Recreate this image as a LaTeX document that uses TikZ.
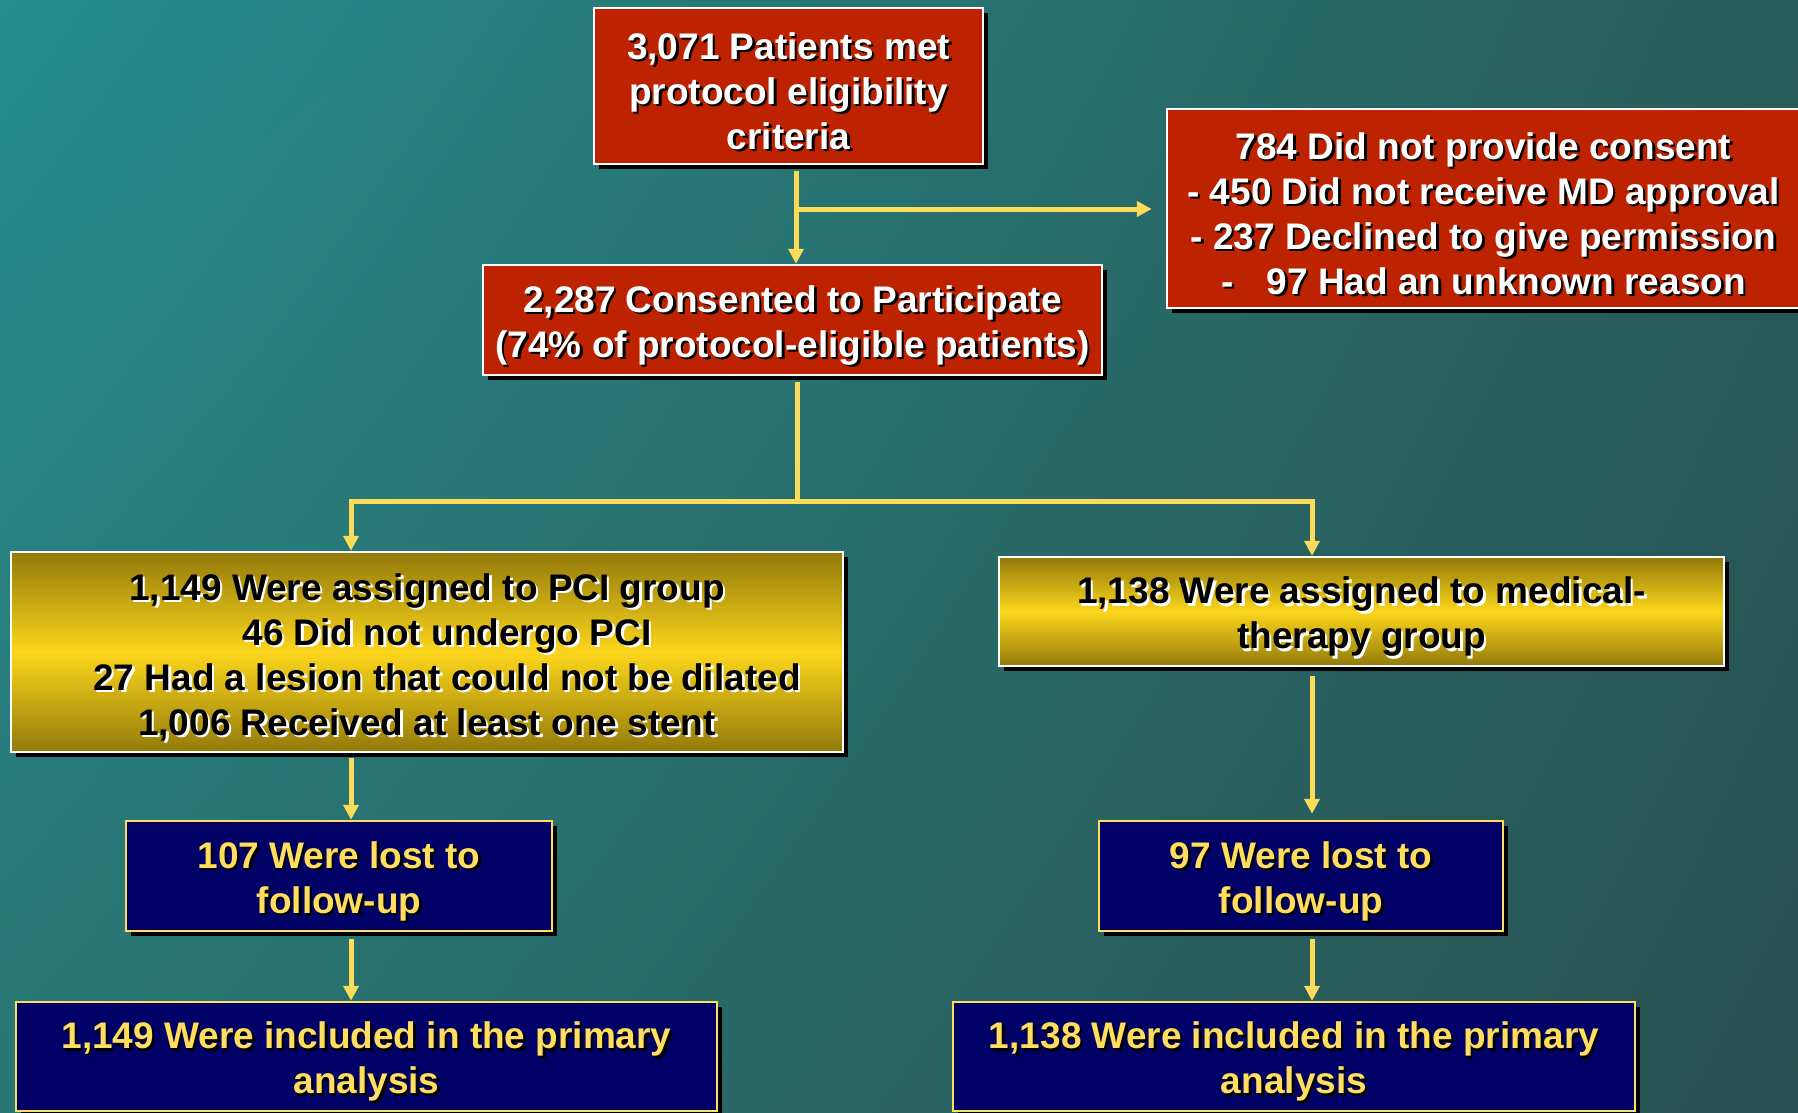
\documentclass[tikz,border=0pt]{standalone}
\usepackage{fontspec}
\setmainfont{Liberation Sans}
\usetikzlibrary{arrows.meta,shadows,shadings}
\definecolor{bgA}{RGB}{38,140,140}
\definecolor{bgB}{RGB}{40,92,90}
\definecolor{bgC}{RGB}{40,118,115}
\definecolor{bgD}{RGB}{40,80,80}
\definecolor{boxred}{RGB}{189,35,0}
\definecolor{navy}{RGB}{0,0,102}
\definecolor{txtyellow}{RGB}{255,222,95}
\definecolor{arrowyellow}{RGB}{250,220,90}
\definecolor{golddark}{RGB}{146,122,10}
\definecolor{goldlight}{RGB}{252,214,28}
\newcommand\shcol{black}
\newcommand\sh[1]{\rlap{\kern2.5pt\raisebox{-2.5pt}[37pt][0pt]{\color{\shcol}#1}}#1}
\begin{document}
\begin{tikzpicture}[x=1pt,y=-1pt,
    font=\fontsize{37}{45}\selectfont\bfseries,
    box/.style={align=center,inner sep=0pt,line width=2.5pt,
      general shadow={fill=black,shadow xshift=5pt,shadow yshift=-5pt}},
    redbox/.style={box,fill=boxred,draw=white,text=white},
    goldbox/.style={box,top color=golddark,bottom color=golddark,middle color=goldlight,
      draw=white,text=black,execute at begin node={\def\shcol{white}}},
    navybox/.style={box,fill=navy,draw=txtyellow,text=txtyellow},
    link/.style={draw=arrowyellow,line width=5pt},
    arr/.style={link,-{Triangle[width=15pt,length=15pt]}}]
    \useasboundingbox (0,0) rectangle (1798,1112);
    \shade[upper left=bgA,upper right=bgB,lower left=bgC,lower right=bgD] (0,0) rectangle (1798,1112);
    % boxes
    \node[redbox,minimum width=389,minimum height=156] (elig) at (788.5,86)
      {\sh{3,071 Patients met}\\\sh{protocol eligibility}\\\sh{criteria}};
    \node[redbox,minimum width=633,minimum height=199] (nocons) at (1483.5,208.5)
      {\sh{784 Did not provide consent}\\\sh{- 450 Did not receive MD approval}\\
       \sh{- 237 Declined to give permission}\\\sh{-\hspace{0.9em}97 Had an unknown reason}};
    \node[redbox,minimum width=619,minimum height=110] (consent) at (792.5,320)
      {\sh{2,287 Consented to Participate}\\\sh{(74\% of protocol-eligible patients)}};
    \node[goldbox,minimum width=832,minimum height=200] (pci) at (427,652)
      {\sh{1,149 Were assigned to PCI group}\\\hspace*{40pt}\sh{46 Did not undergo PCI}\\
       \hspace*{40pt}\sh{27 Had a lesion that could not be dilated}\\\sh{1,006 Received at least one stent}};
    \node[goldbox,minimum width=725,minimum height=109] (med) at (1361.5,611.5)
      {\sh{1,138 Were assigned to medical-}\\\sh{therapy group}};
    \node[navybox,minimum width=426,minimum height=110] (lostL) at (339,876)
      {\sh{107 Were lost to}\\\sh{follow-up}};
    \node[navybox,minimum width=404,minimum height=110] (lostR) at (1301,876)
      {\sh{97 Were lost to}\\\sh{follow-up}};
    \node[navybox,minimum width=701,minimum height=109] (inclL) at (366.5,1056.5)
      {\sh{1,149 Were included in the primary}\\\sh{analysis}};
    \node[navybox,minimum width=682,minimum height=109] (inclR) at (1294,1056.5)
      {\sh{1,138 Were included in the primary}\\\sh{analysis}};
    % arrows
    \coordinate (split) at (796,209);
    \coordinate (fork) at (797,501);
    \coordinate (colL) at (351,0);
    \coordinate (colR) at (1312,0);
    \draw[arr,shorten <=6pt] (elig.south -| split) -- (consent.north -| split);
    \draw[arr,shorten >=14pt] (split) -- (split -| nocons.west);
    \draw[link,shorten <=6pt] (consent.south -| fork) -- (fork);
    \draw[arr] (fork) -| (pci.north -| colL);
    \draw[arr] (fork) -| (med.north -| colR);
    \draw[arr,shorten <=5pt] (pci.south -| colL) -- (lostL.north -| colL);
    \draw[arr,shorten <=9pt,shorten >=6pt] (med.south -| colR) -- (lostR.north -| colR);
    \draw[arr,shorten <=7pt] (lostL.south -| colL) -- (inclL.north -| colL);
    \draw[arr,shorten <=7pt] (lostR.south -| colR) -- (inclR.north -| colR);
  \end{tikzpicture}
\end{document}
